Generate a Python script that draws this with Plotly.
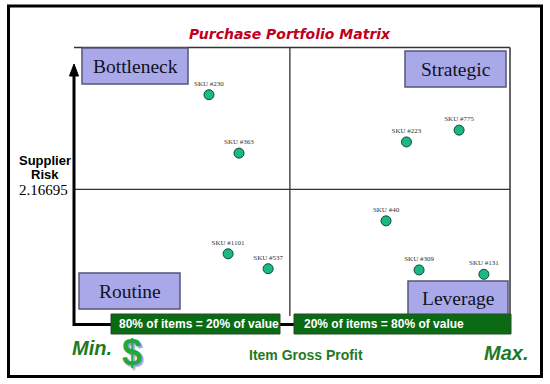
import plotly.graph_objects as go

# ---- data ----
sku_labels = ["SKU #230", "SKU #363", "SKU #223", "SKU #775", "SKU #40",
              "SKU #1101", "SKU #537", "SKU #309", "SKU #131"]
gross_profit = [30.8, 37.7, 76.2, 88.3, 71.5, 35.2, 44.4, 79.1, 94.0]
supplier_risk = [3.69, 2.75, 2.93, 3.12, 1.66, 1.13, 0.89, 0.87, 0.80]
risk_threshold = 2.16695
profit_threshold = 49.4
quadrant_names = ["Bottleneck", "Strategic", "Routine", "Leverage"]
pareto_labels = ["80% of items = 20% of value", "20% of items = 80% of value"]

W, H = 550, 384
def X(px): return px / W
def Y(py): return 1 - py / H

GREEN_TXT = "#1f7a1f"
fig = go.Figure()
fig.add_trace(go.Scatter(
    x=gross_profit, y=supplier_risk, mode="markers+text", text=sku_labels,
    textposition="top center",
    textfont=dict(family="Liberation Serif", size=7, color="#333333"),
    marker=dict(symbol="circle", size=10, color="#1bb886",
                line=dict(color="#0b4a36", width=1)),
    cliponaxis=False, showlegend=False, hoverinfo="text"))

shapes = []
# outer border
shapes.append(dict(type="rect", xref="paper", yref="paper", x0=X(8.5), x1=X(541.5),
                   y0=Y(376.5), y1=Y(6), line=dict(color="black", width=3)))
# frame top and right
shapes.append(dict(type="line", xref="paper", yref="paper", x0=X(74), x1=X(510),
                   y0=Y(47.5), y1=Y(47.5), line=dict(color="#333333", width=1.5)))
shapes.append(dict(type="line", xref="paper", yref="paper", x0=X(510), x1=X(510),
                   y0=Y(47.5), y1=Y(316), line=dict(color="#333333", width=1.5)))
# quadrant dividers
shapes.append(dict(type="line", xref="x", yref="y", x0=0, x1=100,
                   y0=risk_threshold, y1=risk_threshold, line=dict(color="#333333", width=1.3)))
shapes.append(dict(type="line", xref="x", yref="paper", x0=profit_threshold, x1=profit_threshold,
                   y0=Y(316), y1=Y(47.5), line=dict(color="#333333", width=1.3)))
# thick axis path
shapes.append(dict(type="path", xref="paper", yref="paper",
                   path=f"M {X(74)},{Y(72)} L {X(74)},{Y(324.5)} L {X(296)},{Y(324.5)}",
                   line=dict(color="black", width=3)))
shapes.append(dict(type="path", xref="paper", yref="paper",
                   path=f"M {X(69.5)},{Y(76)} L {X(78.5)},{Y(76)} L {X(74)},{Y(64)} Z",
                   fillcolor="black", line=dict(color="black", width=1)))

annotations = []
# quadrant boxes
boxes = [(82, 48, 188, 84), (405, 51, 506, 87), (79, 273, 180, 309), (408, 281, 508, 316)]
for name, (x0, y0, x1, y1) in zip(quadrant_names, boxes):
    shapes.append(dict(type="rect", xref="paper", yref="paper", x0=X(x0), x1=X(x1),
                       y0=Y(y1), y1=Y(y0), fillcolor="#a9a9ea",
                       line=dict(color="#55557a", width=1.5)))
    annotations.append(dict(xref="paper", yref="paper", x=X((x0 + x1) / 2), y=Y((y0 + y1) / 2),
                            text=name, showarrow=False, xanchor="center", yanchor="middle",
                            font=dict(family="Liberation Serif", size=19.5, color="#111122")))
# green pareto boxes
gboxes = [(111, 314, 280, 334), (294, 314, 511, 334)]
gtext_x = [117, 302]
for lab, (x0, y0, x1, y1), tx in zip(pareto_labels, gboxes, gtext_x):
    shapes.append(dict(type="rect", xref="paper", yref="paper", x0=X(x0), x1=X(x1),
                       y0=Y(y1), y1=Y(y0), fillcolor="#0b6a14",
                       line=dict(color="#2a4a2a", width=1)))
    annotations.append(dict(xref="paper", yref="paper", x=X(tx), y=Y((y0 + y1) / 2),
                            text=f"<b>{lab}</b>", showarrow=False, xanchor="left", yanchor="middle",
                            font=dict(family="Liberation Sans", size=12, color="white")))

# title
annotations.append(dict(xref="paper", yref="paper", x=X(290), y=Y(34),
                        text="<b><i>Purchase Portfolio Matrix</i></b>", showarrow=False,
                        xanchor="center", yanchor="middle",
                        font=dict(family="DejaVu Sans", size=14, color="#c0001c")))
# y label
annotations.append(dict(xref="paper", yref="paper", x=X(45), y=Y(160),
                        text="<b>Supplier</b>", showarrow=False,
                        xanchor="center", yanchor="middle",
                        font=dict(family="Liberation Sans", size=13, color="black")))
annotations.append(dict(xref="paper", yref="paper", x=X(45), y=Y(174),
                        text="<b>Risk</b>", showarrow=False,
                        xanchor="center", yanchor="middle",
                        font=dict(family="Liberation Sans", size=13, color="black")))
annotations.append(dict(xref="paper", yref="paper", x=X(43), y=Y(190),
                        text=f"{risk_threshold:.5f}", showarrow=False,
                        xanchor="center", yanchor="middle",
                        font=dict(family="Liberation Serif", size=15, color="black")))
# bottom labels
annotations.append(dict(xref="paper", yref="paper", x=X(92), y=Y(348),
                        text="<b><i>Min.</i></b>", showarrow=False,
                        xanchor="center", yanchor="middle",
                        font=dict(family="Liberation Sans", size=20, color=GREEN_TXT)))
annotations.append(dict(xref="paper", yref="paper", x=X(506), y=Y(353),
                        text="<b><i>Max.</i></b>", showarrow=False,
                        xanchor="center", yanchor="middle",
                        font=dict(family="Liberation Sans", size=20, color=GREEN_TXT)))
annotations.append(dict(xref="paper", yref="paper", x=X(306), y=Y(355),
                        text="<b>Item Gross Profit</b>", showarrow=False,
                        xanchor="center", yanchor="middle",
                        font=dict(family="Liberation Sans", size=14, color=GREEN_TXT)))
# dollar sign with shadow
annotations.append(dict(xref="paper", yref="paper", x=X(132), y=Y(352),
                        text="<b>$</b>", showarrow=False, xanchor="center", yanchor="middle",
                        font=dict(family="Liberation Sans", size=36, color="#22a83a",
                                  shadow="2px 2px 1px #a0a0e0")))

fig.update_layout(
    width=W, height=H, margin=dict(l=0, r=0, t=0, b=0),
    paper_bgcolor="white", plot_bgcolor="white",
    xaxis=dict(domain=[X(75), X(510)], range=[0, 100], visible=False, fixedrange=True),
    yaxis=dict(domain=[Y(324), Y(47.5)], range=[0, 4.45], visible=False, fixedrange=True),
    shapes=shapes, annotations=annotations,
)
fig.write_html("out.html", config={"displayModeBar": False},
               post_script="document.body.style.margin='0';document.body.style.overflow='hidden';")
